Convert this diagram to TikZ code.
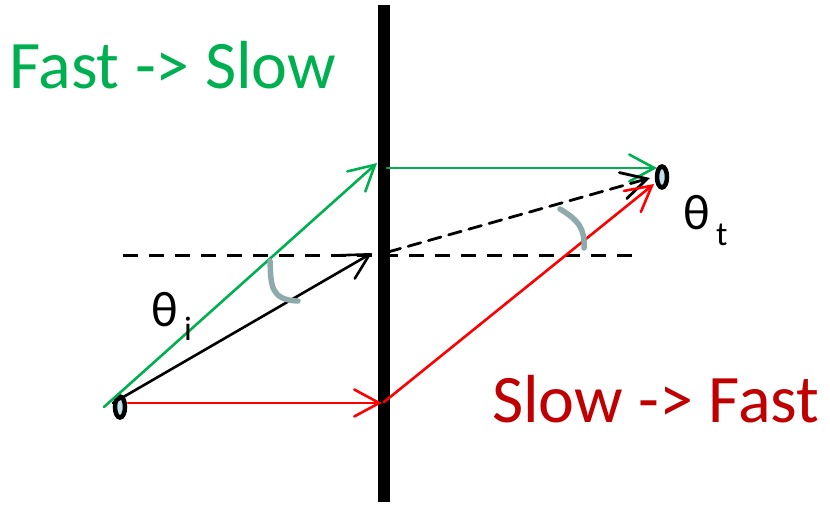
\documentclass[tikz,border=0pt]{standalone}
\usepackage{fontspec}
\setmainfont{Carlito}
\usetikzlibrary{arrows.meta,shapes.geometric}
\definecolor{offgreen}{RGB}{0,176,80}
\definecolor{darkred}{RGB}{192,0,0}
\definecolor{brightred}{RGB}{255,0,0}
\definecolor{arcgray}{RGB}{143,170,170}
\definecolor{dotblue}{RGB}{190,225,235}
\tikzset{
  ray/.style={line width=2.6pt, line cap=round, -{Straight Barb[length=25pt,width=27pt,line cap=round]}},
  dotnode/.style={ellipse, draw=black, line width=4.5pt, fill=dotblue, minimum width=10pt, minimum height=21pt, inner sep=0pt},
  dashline/.style={line width=3pt, dash pattern=on 15pt off 11pt},
  anglearc/.style={arcgray, line width=5.5pt, line cap=round},
  bigtext/.style={font=\fontsize{68}{72}\selectfont, inner sep=0pt, anchor=base west},
  thetatext/.style={font=\fontsize{50}{55}\selectfont, inner sep=0pt, anchor=base west},
  subtext/.style={font=\fontsize{34}{38}\selectfont, inner sep=0pt, anchor=base west}
}
\begin{document}
\begin{tikzpicture}[x=1pt,y=-1pt]
\useasboundingbox (0,0) rectangle (830,506);
% wall
\coordinate (wtop) at (384,5);
\coordinate (wbot) at (384,502);
\draw[line width=12pt] (wtop) -- (wbot);
% named coordinates
\coordinate (gs) at (104,407);
\coordinate (gt) at (377,163);
\coordinate (g2s) at (387,168);
\coordinate (g2t) at (657,168);
\coordinate (ks) at (113,403);
\coordinate (kt) at (372,253);
\coordinate (hs) at (123,255);
\coordinate (he) at (634,255);
\coordinate (ds) at (388,252);
\coordinate (dt) at (650,178);
\coordinate (rs) at (128,403);
\coordinate (rt) at (382,403);
\coordinate (r2s) at (384,402);
\coordinate (r2t) at (654,184);
% dashed normal
\draw[dashline] (hs) -- (he);
% left dot
\node[dotnode] (src) at (120,407) {};
% rays
\draw[ray, offgreen] (gs) -- (gt);
\draw[ray, offgreen] (g2s) -- (g2t);
\draw[ray, black] (ks) -- (kt);
\draw[ray, black, line width=2.8pt, dash pattern=on 13pt off 8pt] (ds) -- (dt);
\draw[ray, brightred] (rs) -- (rt);
\draw[ray, brightred] (r2s) -- (r2t);
% right dot
\node[dotnode] (dst) at (662,177) {};
% angle arcs
\draw[anglearc] (270,261) .. controls (271,285) and (270,300) .. (298,301);
\draw[anglearc] (560,209) .. controls (578,220) and (585,228) .. (584,248);
% texts
\node[bigtext, text=offgreen] (fs) at (9,88) {Fast -> Slow};
\node[bigtext, text=darkred] (sf) at (492,422) {Slow -> Fast};
\node[thetatext] (thi) at (151,326) {θ};
\node[subtext] (sbi) at (184,340) {i};
\node[thetatext] (tht) at (683,229) {θ};
\node[subtext] (sbt) at (716,245) {t};
\end{tikzpicture}
\end{document}
